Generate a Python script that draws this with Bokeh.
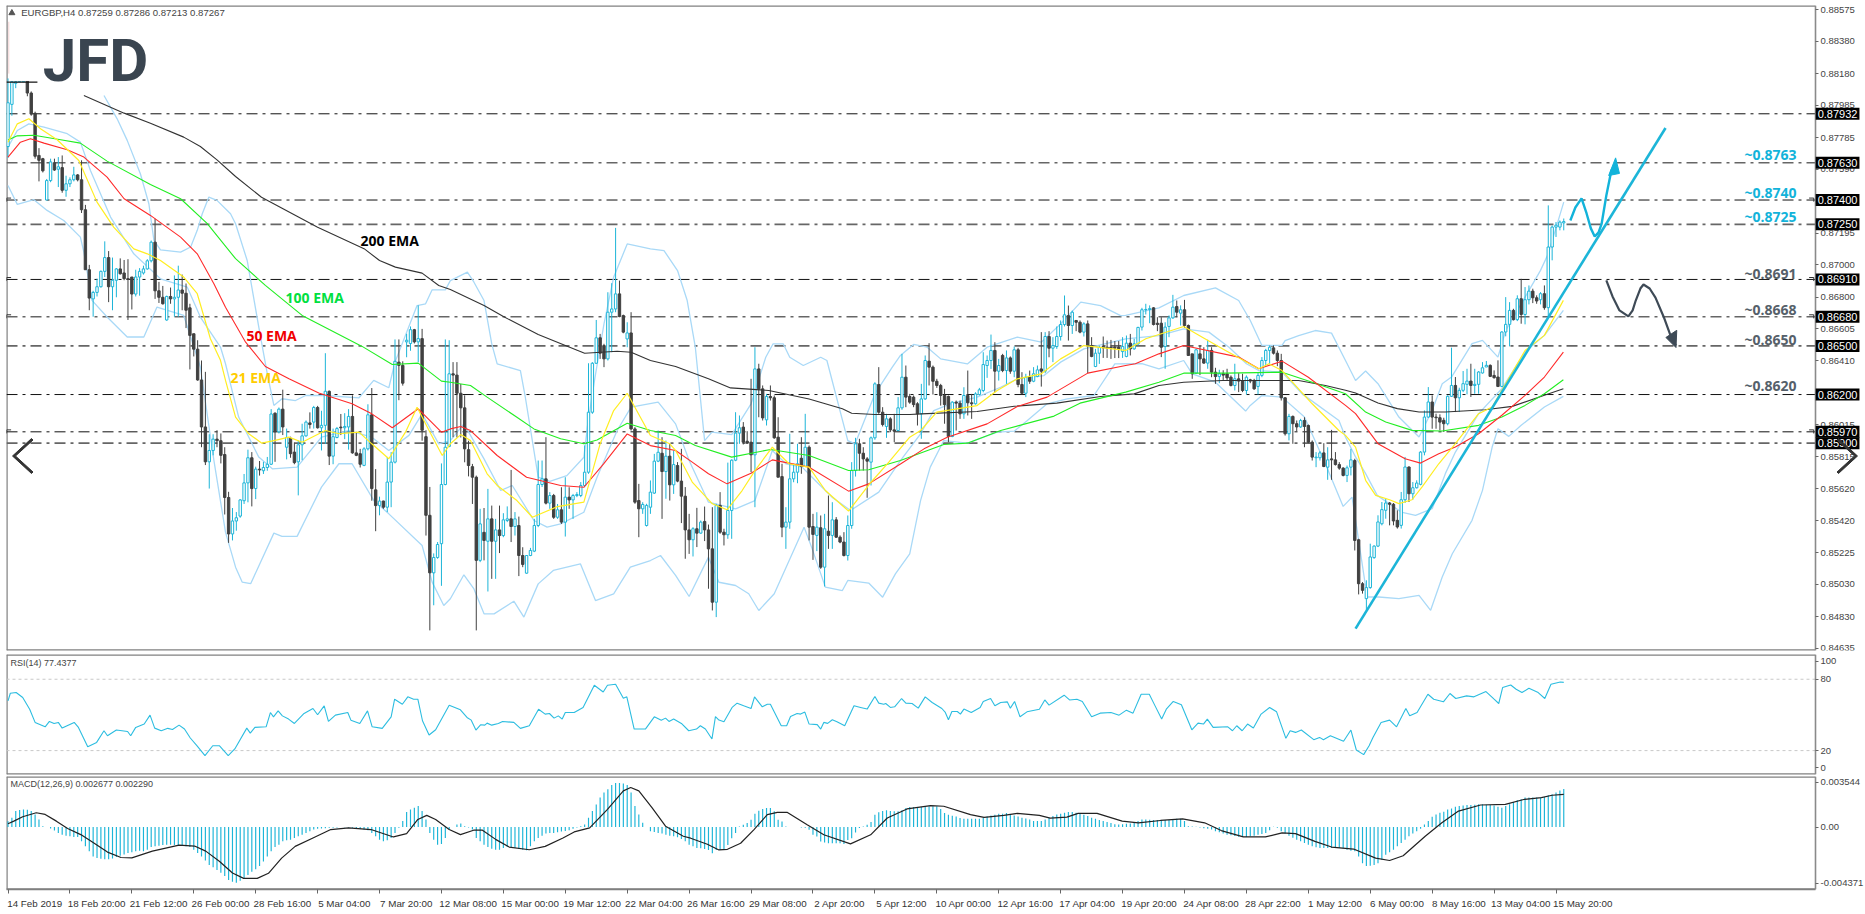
import numpy as np
from bokeh.plotting import figure
from bokeh.layouts import column
from bokeh.models import Range1d, FixedTicker, ColumnDataSource, Label, PolyAnnotation, LinearAxis
from bokeh.core.properties import value
from bokeh.embed import file_html
from bokeh.resources import INLINE

# ---- price data, in 1e-5 units ----
opens = [
87730,87990,88120,88130,88130,88140,88060,87935,87675,87655,
87400,87520,87630,87590,87600,87460,87500,87525,87555,87525,
87340,86970,86790,86830,86865,86960,87045,86865,86905,86975,
86950,86915,86925,86820,86925,86950,86975,87025,87140,86840,
86800,86660,86805,86790,86800,86845,86825,86735,86575,86480,
86290,86000,85785,85855,85925,85915,85830,85565,85340,85420,
85450,85545,85655,85810,85620,85740,85730,85750,85770,86085,
85970,86110,85875,85930,85845,85785,85890,85945,86025,86030,
86120,85995,86010,86220,85820,85935,85999,85995,86000,86065,
85840,85835,85763,85865,86075,85612,85515,85543,85505,85660,
85783,86400,86380,86525,86515,86600,86525,86545,85940,85455,
85100,85195,85280,85645,85880,86328,86320,86208,86118,85860,
85755,85690,85177,85350,85295,85433,85295,85365,85330,85423,
85433,85386,85392,85207,85098,85207,85234,85392,85645,85680,
85530,85577,85443,85489,85413,85567,85550,85577,85577,85639,
85721,86091,86393,86550,86502,86420,86708,86728,86821,86687,
86543,86580,85988,85546,85495,85392,85505,85592,85789,85838,
85725,85820,85643,85762,85666,85573,85365,85304,85372,85345,
85417,85365,85248,84919,85516,85351,85335,85485,85795,85962,
85999,85912,85906,85828,86358,86235,86044,86188,86180,85937,
85694,85382,85413,85680,85721,85807,85756,85875,85386,85331,
85378,85135,85357,85331,85427,85320,85290,85207,85392,85731,
85896,85838,85803,85783,85933,86262,86091,86003,86050,85982,
85978,86118,86307,86188,86184,86143,86081,86173,86406,86369,
86282,86256,86194,86188,85941,86153,86147,86081,86194,86149,
86143,86200,86225,86379,86410,86472,86344,86441,86348,86426,
86344,86476,86262,86208,86307,86282,86311,86358,86344,86558,
86486,86496,86558,86632,86687,86626,86657,86646,86585,86636,
86502,86373,86455,86496,86492,86492,86492,86492,86465,86435,
86517,86482,86513,86616,86723,86725,86735,86640,86640,86496,
86620,86673,86743,86702,86723,86626,86451,86332,86451,86420,
86394,86472,86338,86311,86328,86328,86307,86256,86297,86283,
86225,86291,86287,86250,86318,86410,86472,86488,86455,86410,
86180,85958,86065,86020,86000,86040,86009,85906,85810,85810,
85840,85752,85803,85797,85768,85746,85701,85752,85793,85304,
85033,84941,85009,85194,85265,85403,85486,85531,85523,85424,
85393,85551,85753,85588,85625,85646,85845,86061,86154,86061,
86057,86041,86020,86189,86256,86180,86226,86263,86283,86256,
86263,86333,86370,86380,86318,86308,86250,86586,86633,86719,
86662,86791,86694,86785,86838,86797,86785,86822,86736,87110,
87233,87233,87259]
closes = [
88000,88130,88130,88150,88150,88060,87930,87670,87645,87580,
87520,87635,87585,87605,87460,87500,87525,87555,87525,87340,
86970,86795,86830,86865,86960,87045,86865,86905,86975,86945,
86915,86910,86820,86925,86960,86975,87025,87140,86840,86800,
86760,86805,86790,86800,86845,86825,86720,86565,86480,86290,
86000,85785,85855,85925,85915,85825,85565,85340,85420,85440,
85550,85655,85810,85620,85740,85735,85750,85770,86080,85970,
86110,86000,85935,85835,85780,85890,85945,86030,86015,86120,
85995,86010,86220,85820,85940,85990,85995,86003,86065,85840,
85825,85770,85865,86075,85620,85515,85543,85505,85660,85783,
86405,86380,86270,86535,86600,86525,86545,85980,85455,85100,
85195,85275,85645,85875,86328,86320,86208,86118,85865,85762,
85690,85177,85402,85300,85433,85295,85365,85330,85427,85433,
85386,85433,85207,85152,85207,85238,85392,85645,85680,85530,
85577,85443,85489,85413,85567,85550,85577,85583,85639,85721,
86091,86393,86550,86455,86420,86708,86728,86821,86681,86585,
86580,85988,85536,85495,85522,85516,85598,85789,85844,85725,
85820,85643,85768,85666,85573,85365,85304,85372,85345,85413,
85365,85248,84919,85516,85351,85335,85485,85795,85962,85995,
85906,85900,85828,86358,86235,86056,86188,86180,85933,85690,
85382,85413,85680,85721,85773,85756,85875,85382,85337,85382,
85135,85372,85331,85427,85320,85290,85207,85392,85731,85896,
85838,85803,85789,85933,86266,86091,86015,86050,85982,85974,
86118,86307,86184,86153,86138,86081,86173,86410,86369,86282,
86256,86194,86138,85941,86153,86147,86081,86194,86149,86143,
86204,86229,86385,86410,86472,86344,86379,86348,86426,86344,
86476,86262,86208,86307,86282,86328,86352,86344,86558,86486,
86502,86558,86632,86692,86626,86708,86646,86585,86636,86502,
86435,86455,86492,86488,86486,86486,86486,86482,86496,86517,
86482,86513,86614,86723,86725,86730,86632,86632,86492,86616,
86673,86739,86708,86723,86626,86441,86328,86476,86420,86394,
86472,86338,86311,86328,86320,86303,86256,86297,86283,86225,
86307,86283,86235,86318,86410,86472,86492,86455,86410,86180,
85958,86065,86020,86000,86040,86003,85906,85814,85814,85840,
85756,85797,85797,85768,85746,85701,85748,85797,85300,85033,
84992,85009,85198,85265,85414,85490,85531,85523,85420,85383,
85551,85753,85588,85625,85654,85845,86061,86154,86061,86057,
86030,86020,86189,86256,86180,86226,86267,86283,86256,86263,
86339,86365,86380,86312,86304,86250,86586,86633,86719,86662,
86791,86694,86785,86838,86797,86777,86822,86736,87110,87233,
87245,87264,87267]
highs = [
88150,88170,88150,88180,88180,88160,88070,87945,87720,87660,
87530,87655,87655,87665,87675,87550,87540,87605,87560,87645,
87370,87000,86840,86915,86965,87145,87085,87045,86980,87040,
87030,87035,86925,86970,86980,86995,87035,87150,87285,86895,
86870,86810,86860,86935,86995,86940,86885,86760,86575,86535,
86410,86340,85955,85955,85980,85960,85875,85600,85500,85475,
85555,85710,85860,85845,85755,85790,85785,85815,86110,86090,
86120,86230,85990,85940,85905,85915,86020,86040,86090,86130,
86130,86100,86455,86225,85990,86000,86080,86085,86110,86195,
85970,85865,85875,86140,86240,85740,85570,85545,85815,85845,
86540,86540,86405,86575,86620,86605,86750,86605,85980,85630,
85220,85290,85775,86540,86535,86400,86400,86265,86195,85915,
85772,85700,85495,85500,85618,85515,85433,85515,85468,85510,
85735,85475,85447,85258,85207,85254,85433,85793,85793,85937,
85598,85587,85525,85628,85690,85628,85587,85598,85660,85886,
86393,86400,86660,86574,86513,86831,86887,87228,86903,86693,
86646,86708,85999,85649,85536,85526,85670,85834,85978,85937,
85916,85896,85855,85783,85865,85629,85464,85382,85501,85423,
85509,85398,85505,85526,85598,85372,85780,85800,86091,86071,
86030,85974,86297,86492,86390,86256,86204,86256,86194,86060,
85773,85505,85958,85773,85896,85937,86081,85886,85464,85474,
85454,85464,85577,85536,85444,85331,85351,85454,85783,85933,
85927,85875,85814,85941,86276,86369,86122,86081,86060,86081,
86184,86451,86379,86204,86194,86153,86266,86441,86517,86379,
86297,86266,86235,86194,86159,86163,86163,86245,86348,86204,
86214,86241,86461,86441,86570,86523,86420,86451,86472,86435,
86496,86488,86338,86328,86348,86369,86379,86585,86585,86591,
86554,86620,86657,86811,86749,86718,86657,86657,86646,86657,
86554,86482,86502,86558,86533,86537,86530,86530,86554,86564,
86574,86544,86618,86735,86760,86750,86739,86677,86677,86646,
86688,86815,86780,86750,86784,86632,86451,86482,86500,86492,
86538,86492,86365,86353,86350,86359,86318,86390,86332,86328,
86318,86297,86297,86338,86431,86482,86503,86503,86472,86451,
86184,86081,86071,86040,86050,86060,86015,85917,85845,85851,
85900,85875,85982,85845,85783,85752,85762,85865,85804,85310,
85043,85054,85280,85270,85455,85537,85558,85537,85531,85486,
85599,85815,85757,85660,85671,85851,86102,86246,86195,86082,
86078,86057,86195,86489,86308,86242,86345,86359,86390,86359,
86345,86400,86407,86386,86349,86411,86590,86801,86770,86729,
86812,86914,86863,86873,86853,86812,86832,86873,87367,87243,
87264,87274,87286]
lows = [
87660,87920,88090,88130,88130,88040,87920,87655,87515,87570,
87400,87510,87580,87480,87445,87420,87480,87515,87515,87320,
86970,86720,86680,86805,86860,86925,86770,86720,86800,86940,
86905,86660,86725,86805,86810,86940,86970,87015,86790,86765,
86755,86655,86760,86680,86680,86720,86610,86355,86435,86285,
85875,85765,85620,85825,85875,85775,85460,85285,85300,85360,
85440,85525,85535,85510,85555,85700,85710,85730,85765,85785,
85960,85950,85800,85810,85770,85578,85795,85940,85990,85990,
85990,85855,85895,85765,85770,85930,85950,85925,85860,85835,
85820,85750,85758,85855,85545,85357,85455,85495,85475,85505,
85775,86165,86255,86430,86470,86515,86400,85915,85330,84745,
84900,85187,85020,85640,85875,85937,85935,85935,85782,85695,
85525,84745,85166,85177,84985,85063,85063,85222,85320,85413,
85290,85330,85080,85135,85094,85203,85228,85382,85630,85522,
85495,85433,85433,85402,85324,85495,85433,85567,85567,85628,
85711,86081,86389,86420,86369,86410,86461,86708,86677,86578,
86492,85978,85526,85320,85464,85386,85464,85587,85783,85433,
85557,85546,85587,85659,85407,85187,85217,85201,85259,85341,
85296,85002,84868,84827,85341,85269,85310,85310,85789,85896,
85892,85896,85721,85505,86060,86040,86009,86163,85927,85690,
85320,85248,85372,85659,85653,85711,85752,85300,85180,85234,
85125,85016,85248,85248,85316,85283,85201,85176,85372,85694,
85731,85731,85563,85639,85921,86081,86003,85933,85968,85906,
85974,86106,86122,86143,86122,86009,85927,86167,86256,86200,
86241,86132,86020,85906,85937,85978,86050,86050,86071,86050,
86138,86194,86214,86303,86358,86214,86286,86338,86266,86328,
86307,86245,86200,86184,86266,86276,86307,86249,86332,86430,
86400,86482,86533,86620,86533,86574,86591,86578,86558,86332,
86430,86369,86389,86426,86426,86420,86425,86425,86426,86430,
86441,86476,86503,86595,86694,86640,86626,86591,86431,86359,
86554,86667,86677,86626,86612,86441,86297,86328,86320,86390,
86359,86307,86266,86270,86290,86287,86250,86225,86215,86215,
86200,86270,86229,86200,86307,86379,86390,86447,86375,86163,
85947,85917,85896,85974,85995,85875,85900,85793,85752,85793,
85752,85674,85674,85762,85736,85695,85660,85701,85238,84967,
84972,84869,85002,85187,85259,85393,85434,85393,85393,85373,
85373,85531,85537,85551,85620,85640,85825,86057,85989,85989,
85979,85969,86010,86185,86092,86092,86215,86201,86185,86205,
86205,86329,86370,86308,86298,86246,86246,86559,86497,86657,
86653,86637,86633,86756,86764,86760,86756,86723,86682,87028,
87172,87213,87213]

# ---- moving averages: (bar index, price) ----
ema200_idx = [19.6,30,36.8,45.4,49.7,54,58.8,65.5,80,92,96,100.1,107,111.3,114.3,123,128,137,144.5,149,157.4,161,166,172.5,181,186.7,196.6,207,215.6,218,224,233,236,250.4,260,271,282.3,291,297.4,303.8,313.8,327.5,333.5,340.4,345.6,348.2,354,359,364.6,371.4,381.7,388.7,397,401.9]
ema200_val = [88045,87936,87874,87788,87730,87648,87545,87417,87232,87100,87027,86986,86949,86873,86848,86749,86681,86570,86498,86455,86467,86461,86410,86373,86297,86241,86225,86173,86112,86085,86077,86077,86081,86095,86128,86147,86188,86204,86256,86276,86287,86287,86287,86256,86226,86209,86148,86113,86092,86092,86106,86127,86195,86236]
ema200_head_idx = [-0.4,7.6]
ema200_head_val = [88127,88127]
ema100_idx = [0,2.4,6.7,13.6,18.7,25.6,36.8,44.6,51.5,58.8,66.5,76,91.5,99.3,106,112,114.3,119.5,123.8,131.5,135.9,142.8,148.8,152.2,160,166,172.5,177.6,187,197,207,217.2,222.4,230.6,241.8,247.9,256.5,270.3,277,288.8,297.4,303.8,314.6,329.2,337.8,345.6,350.8,356,362.8,370.6,380,386,392,397,401.9]
ema100_val = [87770,87796,87800,87772,87751,87640,87496,87408,87254,87038,86873,86688,86497,86385,86394,86283,86276,86256,86184,86060,85988,85927,85896,85920,86023,85978,85947,85886,85814,85861,85824,85731,85736,85793,85892,85900,85978,86067,86147,86215,86276,86332,86332,86338,86270,86205,86092,86030,85979,85975,86010,86061,86133,86205,86291]
ema50_idx = [0,3.2,5.8,9.3,15.3,19.6,25.6,30,36.8,44.6,48.9,53.2,56.2,61.4,66.5,72.6,80.3,88.9,94,99.3,106,112,114.3,117,119.5,126.4,134,142.8,148.8,153.9,160,166,172.5,176.8,181,185.8,192,197.5,207,217.2,222.4,230.6,236.7,242.7,253,260.8,268.5,279,288.8,291.3,297.4,303.8,318,323.2,329.2,336,345.6,348.2,354,361,365,369.7,374,380,386,392,397,401.9]
ema50_val = [87665,87757,87778,87751,87710,87665,87541,87408,87305,87171,87068,86883,86739,86523,86373,86297,86209,86143,86081,85995,86112,85968,85988,86003,85978,85824,85690,85639,85628,85772,85957,85885,85855,85783,85711,85649,85715,85797,85752,85604,85649,85772,85865,85937,86019,86126,86184,86332,86379,86390,86451,86503,86431,86359,86406,86307,86133,86082,85897,85804,85777,85835,85876,85958,86072,86195,86308,86462]
ema21_idx = [0,2.4,5.4,8.4,12.7,18.3,23,27.3,32.5,36,39.4,45.4,48.9,52.3,54.9,56.2,58.8,62.2,65.6,69,72.6,76,82,85.5,90.7,94,98.4,102.7,105.7,108.8,112.2,114.3,117,119.5,123.8,126.4,131.5,135.5,142,148.8,153,156.5,160,163.4,166,171,172.5,176.8,182,185.8,189.7,193,197.5,201.8,207,211.2,217.2,223,227.6,233,235.8,240,245.2,250.4,255.6,260.8,267,272,278,288.8,294,298,303.8,308.6,314.6,323.2,325.8,329.2,337,343.9,345.6,348.2,350.8,353.4,357,359.4,362.8,365.4,369.7,374,380,383.5,386,392,397,401.9]
ema21_val = [87757,87870,87901,87840,87772,87644,87387,87233,87099,87068,87027,86925,86822,86544,86411,86287,86061,85958,85900,85917,85937,85906,85978,85958,85968,85896,85804,85968,86122,85978,85824,85896,85953,85916,85711,85639,85546,85443,85509,85536,85896,86101,86208,86060,85947,85896,85855,85660,85526,85489,85608,85731,85875,85773,85752,85608,85481,85659,85783,85937,85978,86091,86112,86132,86225,86297,86328,86420,86502,86472,86544,86575,86620,86554,86472,86359,86390,86348,86143,85978,85948,85876,85671,85578,85551,85527,85551,85630,85773,85897,86082,86123,86226,86472,86565,86781]

# ---- Bollinger bands ----
bb_up_idx = [24.8,28.2,30.8,34.2,36.4,37.7,39.4,44.6,47.2,48.9,50.2,51.9,54,57.5,58.8,61.8,64.8,67,68.7,70.8,74.3,76.9,82,90.7,94.5,98.4,100,105.7,107.9,109.6,113,114.3,118.7,120.4,123,125,126.4,132.4,133.6,137,140,144.4,148.8,149.7,151.4,154,156.5,160,166,169.5,173,175.5,177.6,180,181.9,187,192,195.8,197.7,200.3,202,205.5,210,211.6,217,218.9,224,228.5,230.6,234,237.5,241,247.9,253,260.8,267,272,277.2,282.3,287.5,288.8,297.4,303.8,312,318,321,324,329.2,330,333.5,337.8,342,345.6,348.2,350.8,354,359.4,364.6,368,370.6,373,378.3,381,385,387,392,396,398,402]
bb_up_val = [88045,87901,87768,87562,87377,87151,87093,87079,87110,87213,87315,87418,87398,87315,87254,87027,86616,86328,86133,86174,86163,86194,86194,86180,86287,86242,86400,86749,86760,86846,86846,86903,86955,86893,86780,86513,86389,86348,86194,85690,85665,85700,85813,86000,86266,86636,86924,87129,87099,87088,86965,86780,86492,85916,85968,85953,86143,86430,86513,86513,86430,86379,86430,86410,85916,85896,86204,86369,86441,86509,86492,86420,86389,86492,86554,86523,86636,86770,86749,86687,86688,86735,86811,86858,86780,86657,86503,86503,86533,86564,86595,86579,86410,86287,86345,86267,86061,85938,86103,86267,86308,86514,86534,86431,86596,86801,86966,87069,87387]
bb_lo_idx = [0,2.4,6.7,10.1,14.4,18.7,19.6,21.7,25.6,30.8,35.1,38.5,45.4,49.7,53.2,56.2,58.8,60.5,62.7,68.7,70.8,74.7,81,85.5,88.9,94.5,98.4,107,109.6,112.6,114.3,117.8,120.4,123,125.6,130.7,133.3,137,140.9,147.9,151.8,156.5,160.8,166,168.6,172.5,176,181,183.7,188,191.4,194,198,205.7,207.8,211.2,215.6,217,222.4,226,229.3,233,235.8,238.3,241.8,247.9,255.6,260,263.4,268.5,273.7,280.6,286,293,297.4,303.8,306,312,319.8,321,324,329.2,335,340.4,345,347.3,349,351.2,354.2,359.4,364.6,367.6,370.6,373.2,378.3,381,383.5,385,387.8,391,397,401.9]
bb_lo_val = [87490,87373,87402,87336,87274,87171,87079,86781,86678,86555,86555,86740,86688,86370,85794,85351,85135,85043,85033,85345,85325,85325,85629,85773,85773,85547,85464,85269,85043,84899,84940,85088,85001,84847,84847,84925,84827,85032,85115,85156,84929,84970,85135,85176,85207,85084,84954,85197,85042,85022,84971,84868,84971,85382,85248,85012,84991,85053,85037,84950,85094,85217,85546,85752,85916,85900,85968,85974,86040,86143,86173,86194,86389,86390,86359,86410,86328,86276,86098,86133,86194,86184,86061,85773,85510,85567,85300,84951,84951,84941,84961,84869,85074,85218,85424,85609,85876,85989,85942,86010,86123,86189]
bb_mid_idx = [0,2.4,5.4,9.3,15.3,18.7,21.3,26.5,32.5,39.4,46.3,49.7,54.9,56.2,59.6,64.8,68.3,74.7,81,88,94,98.4,103.6,107,111.3,114.3,117.8,123,127.3,130.3,135.9,139.3,142.8,148.8,152.2,157.4,161,168,172.5,176,181,188,193,197.5,201,205.2,208.6,212.9,217.7,225,230.6,235.8,239.2,243.5,250.4,256.5,260.8,267.7,272,278,288.8,297.4,303.8,310.3,315.5,320,323.2,329.2,334.4,343.9,345.6,348.2,350.8,353.8,360,363.7,368,371.4,374,380,386,392,397,401.9]
bb_mid_val = [87726,87829,87870,87850,87809,87757,87582,87295,87068,86914,86863,86678,86493,86390,86061,85814,85742,85752,85937,85978,85937,85855,85948,86081,85896,85916,86019,85803,85608,85639,85423,85382,85402,85474,85690,85978,86122,86153,86019,85793,85536,85495,85546,85855,85773,85752,85670,85567,85485,85598,85793,85958,86101,86143,86184,86245,86297,86317,86400,86482,86544,86564,86605,86585,86492,86390,86348,86338,86204,86040,85938,85815,85712,85578,85475,85455,85496,85712,85845,86082,86236,86462,86565,86719]

# ---- RSI ----
rsi_idx_a = [0,0.6,2.1,3.8,5.6,7,9.6,10.7,11.9,13,14,17.1,18.2,20.6,22.9,24.8,25.7,28,30.9,31.7,33,35.2,36.7,37.9,39.6,41.3,42.5,44.2,45.6,47.1,48.8,50.9,52.9,54.6,56.9,58.6,61.7,62.6,63.8,66.7,67.8,68.6,69.8,70.9,72.5,74,76.5,78.8,80,81.7,82.8,84.6,87.8,88.6,90.9,92.9,94.1,96.7,99,99.9,101.9,103.3,104.8,105.9,107.1,108.8,110.5,114,116.9,118.6,119.7,120.9,122.1,123.2,123.8,125,126.7,127.8,130.7,132.4,134.7,137.1,138.8,139.9,141.1,142.2,143.2,144,146.3,148.6,151.5,153.8,154.9,157,159,159.9,161.8,164.7,167,168.8,169.9,170.8,172,174,175.9]
rsi_val_a = [61.8,68.2,68.8,64.6,54.8,43.7,40,44.5,42.8,43.7,38.9,43.7,39.5,23.3,26.9,36.7,32.5,37.3,36.1,32.5,39.5,42.3,49.8,38.9,36.7,38.7,37.8,41.4,38.1,30.6,24.1,15.8,24.1,24.1,15.8,21.4,38.9,34.7,39.5,40,52,48.4,53.4,49.2,46.5,42.8,51.2,55.4,50.1,57.6,44.5,49.8,52,45.6,42.8,53.4,40,38.7,48.4,63.2,59,65.2,63.2,63.2,45.1,33.1,37.5,58.2,54.3,47.9,45.6,37.3,41.7,41.4,43.1,41.4,42.8,44.5,43.7,38.7,40.9,54.8,50.7,51.2,47.3,49.2,46.5,52,52,56.2,74.9,69.3,74.9,75.8,64,65.2,38.1,38.1,48.4,45.6,47.3,44.5,46.5,42.8,36.7]
rsi_idx_b = [177.9,178.9,180.2,181.9,182.8,183.7,185,187.1,188.4,190.1,192,192.9,194.9,196.2,197,199.8,201.2,202.2,203.9,204.8,205.9,207,209.1,210,210.8,211.8,213,214.2,216.2,218.6,220.3,222,224,225,226.3,226.8,228,229.1,230.9,232,233.6,235.2,237,238.8,241.3,242.2,243,243.9,245.3,246.1,247,248.9,251.2,252,253.9,255]
rsi_val_b = [38.1,40.9,38.1,29.8,48.5,45.7,44.3,56.3,59.9,57.7,55.4,65.2,56.8,59,59,40.9,40.9,48.7,51.2,50.7,52.4,42.3,41.8,38.1,43.7,42.9,45.9,44.3,40.9,57.7,56.3,54.9,65.5,59.9,59,59.6,56.3,56.8,63.8,59.9,59.6,55.7,65.2,60.4,55.4,52.1,45.9,52.9,52.9,50.7,54.9,52.1,56.3,61.3,63.8,57.7]
rsi_idx_c = [256.5,258.2,259,260.1,261.5,263.3,266.5,267.9,269,272.9,274.3,276.2,277.6,280,282.2,285,287.1,289,290.7,292.8,294.9,296.4,298.1,299.3,301.1,303.2,305.9,307.5,308.9,309.9,311.4,315.2,316.4,317.5,318.9,320.3,321.8,323.8,326,327.8,330.2,331.3,332.7,334.2,337.4,338.9,339.9,341.7,345.1,347,348.4,350.3,351.7,352.7,354.8,357,358.8,361.2,362.2,364.1,366.9,368.4,370.9,372.6,374.1,376.9,378.8,381.9,384,385.2,386.2,388.3,389.7,391.2,393,395.4,397.1,398.7,401.1,402]
rsi_val_c = [60.4,61,55.7,61.3,48.4,52.6,54.8,62.6,58.2,66.6,62.6,63.2,61.3,48.4,51.5,52,49.8,54,51.5,67.4,67.4,57.6,46.5,54.8,61.3,58.5,37.5,43.1,42.3,46.5,39.5,40,36.7,40.9,36.7,42.3,39,50.7,56.2,52.6,30.3,36.7,35.3,37.3,29.2,31.1,29.2,32.5,27.8,37.3,20.5,16.6,24.1,31.1,43.7,45.6,40,55.4,49.2,52,67.4,63.2,61,68,63.8,66,65.2,69.6,63.2,59.6,73,75.2,71.6,68.8,72.4,68.8,63.8,75.8,77.7,77.4]

# ---- MACD ----
macd_hist = [
417,650,1120,1190,1240,1220,1120,890,530,60,10,-100,-240,-410,-530,-600,-640,-690,-690,-1000,
-1350,-1700,-2060,-2170,-2220,-2250,-2250,-2200,-2100,-2010,-1920,-1820,-1770,-1700,-1660,-1700,-1590,-1400,-1350,-1300,
-1260,-1230,-1230,-1260,-1280,-1300,-1350,-1400,-1590,-1820,-2060,-2340,-2650,-2810,-3000,-3190,-3420,-3710,-3820,-3890,
-3750,-3590,-3350,-3120,-2950,-2720,-2410,-2060,-1700,-1400,-1230,-1000,-930,-880,-760,-640,-530,-410,-290,-170,
-120,-100,-80,-50,-50,-30,0,-10,-30,-50,-80,-120,-170,-220,-410,-640,-880,-1000,-930,-760,
-410,-50,420,1050,1240,1360,1480,1120,530,-410,-880,-1230,-1190,-760,-170,10,180,250,60,-30,
-170,-760,-1000,-1230,-1400,-1520,-1590,-1590,-1470,-1400,-1400,-1470,-1540,-1590,-1630,-1350,-1000,-760,-600,-450,
-410,-410,-360,-310,-270,-220,-120,-30,60,180,650,1120,1590,2070,2420,2650,2940,3080,3080,3060,
2940,2420,1480,890,300,0,-290,-340,-410,-450,-530,-600,-640,-710,-830,-1000,-1230,-1350,-1470,-1480,
-1530,-1600,-1840,-1600,-1600,-1550,-1250,-780,-420,50,170,280,520,940,1150,1270,1340,1340,1110,520,
400,50,0,0,0,-20,-50,-190,-540,-660,-1010,-1080,-1130,-1130,-1130,-1130,-1180,-900,-780,-380,
-70,50,170,350,870,1040,1130,1180,1130,1110,1110,1180,1340,1410,1410,1410,1410,1410,1460,1460,
1460,1270,990,870,800,750,640,590,590,590,590,590,640,750,820,870,940,940,990,870,
820,750,650,610,530,420,420,420,530,650,770,890,940,1010,1050,1050,1010,940,870,770,
650,580,490,420,350,280,200,180,200,230,250,300,420,530,530,510,490,490,490,490,
490,530,580,580,420,60,40,20,-30,-80,-120,-170,-290,-360,-450,-530,-570,-620,-670,-690,
-690,-640,-600,-530,-480,-410,-220,20,-50,-290,-450,-600,-740,-880,-1000,-1110,-1230,-1350,-1420,-1470,
-1470,-1470,-1470,-1470,-1470,-1490,-1590,-1660,-1700,-2060,-2530,-2720,-2700,-2650,-2530,-2290,-1940,-1770,-1590,-1350,
-1110,-880,-640,-450,-290,-120,180,420,720,890,1010,1080,1240,1310,1430,1480,1520,1550,1550,1570,
1600,1600,1570,1550,1520,1430,1360,1480,1600,1760,1880,1950,2070,2070,2070,2070,2070,2110,2230,2300,
2420,2560,2677]
signal_idx = [0,1.5,3.8,7.3,9.6,12.5,15.4,18.8,21.1,25.7,29.2,32,37.3,44.2,48.2,51.1,54.6,58,60.9,64.4,67.3,70.7,74.2,78.8,83.4,88,93.8,99.6,103,105.9,108.2,110.5,114,116.9,120.3,122.6,126.1,129.5,134.7,138.8,143.4,146.3,150.3,154.9,159,160.9,163,166.4,169.9,174.5,176.4,180.7,183.7,185.9,189.3,192.7,196.2,198.8,201.3,206.5,210.8,217.7,222.9,227.2,232.3,238.4,241.8,248.7,252.2,257.3,260.8,266.5,269.3,273.6,276.5,281.4,287.9,292.1,297.8,303.5,309.2,313.5,319.2,324.9,329.2,332.7,337.7,342,347.7,353.4,357,360.5,366.2,370.5,374.8,380.5,386.9,391.9,396.2,399,402]
signal_val = [229,417,723,1007,890,418,-102,-526,-927,-1752,-2129,-2153,-1682,-1258,-1329,-1682,-2388,-3213,-3589,-3589,-3236,-2176,-1352,-763,-172,-54,-172,-690,-455,535,818,535,-172,-526,-219,-219,-878,-1399,-1588,-1352,-761,-337,-54,1241,2537,2772,2537,1359,63,-644,-777,-1200,-1600,-1555,-1130,-190,870,1037,1037,165,-540,-1178,-540,636,1272,1508,1460,872,683,825,959,818,629,700,959,959,417,299,464,582,299,-243,-690,-690,-408,-455,-997,-1397,-1538,-2175,-2340,-2010,-643,299,1124,1548,1595,1948,2066,2231,2290]

# ---- levels, ticks, labels ----
tick_prices = [0.88575,0.88380,0.88180,0.87985,0.87785,0.87590,0.87195,0.87000,0.86800,0.86605,0.86410,0.86015,0.85815,0.85620,0.85420,0.85225,0.85030,0.84830,0.84635]
thin_levels = [0.87932,0.87400,0.86910,0.86200,0.85970]
thick_levels = [0.87630,0.87250,0.86680,0.86500,0.85900]
bracket_levels = [0.87400,0.86910,0.86680,0.85970]
time_labels = ["14 Feb 2019","18 Feb 20:00","21 Feb 12:00","26 Feb 00:00","28 Feb 16:00","5 Mar 04:00","7 Mar 20:00","12 Mar 08:00","15 Mar 00:00","19 Mar 12:00","22 Mar 04:00","26 Mar 16:00","29 Mar 08:00","2 Apr 20:00","5 Apr 12:00","10 Apr 00:00","12 Apr 16:00","17 Apr 04:00","19 Apr 20:00","24 Apr 08:00","28 Apr 22:00","1 May 12:00","6 May 00:00","8 May 16:00","13 May 04:00","15 May 20:00"]
blue_notes = ["~0.8763","~0.8740","~0.8725"]
blue_note_y = [87681,87447,87298]
grey_notes = ["~0.8691","~0.8668","~0.8650","~0.8620"]
grey_note_y = [86947,86725,86540,86256]
ema_names = ["200 EMA","100 EMA","50 EMA","21 EMA"]
ema_name_idx = [91.1,71.7,61.6,57.5]
ema_name_val = [87150,86799,86564,86305]
ema_name_col = ["#000000","#00e040","#f00000","#ffcc00"]
trend_idx = [348.2,428.3]
trend_val = [84756,87844]
up_idx = [403.7,405,406.6,407.9,409,410,411,411.8,413,414.3,415.4]
up_val = [87274,87354,87410,87317,87225,87175,87200,87255,87428,87582,87625]
up_head_idx = [415.4,413.6,416.4]
up_head_val = [87660,87551,87564]
down_idx = [413,414.6,416.4,418.7,419.8,420.6,421.8,422.6,424.2,425.7,428,429.6,431]
down_val = [86904,86805,86719,86682,86719,86780,86854,86879,86854,86798,86669,86564,86502]
down_head_idx = [431,428.4,431.2]
down_head_val = [86490,86552,86596]

BLUE = "#1cb5d8"
DARK = "#404040"
FONT = "Liberation Sans"
AX_END = 467.05
x_rng = Range1d(-0.39, 479.97)
px = 1e-5
ix = np.arange(len(opens))
O, H, L, C = [np.array(a) * px for a in (opens, highs, lows, closes)]

def make(h, top, bottom, yr):
    f = figure(width=1865, height=h, x_range=x_rng, y_range=yr, tools="", toolbar_location=None,
               output_backend="svg", x_axis_location=None, y_axis_location="right",
               min_border_left=6, min_border_right=0, min_border_top=top, min_border_bottom=bottom,
               background_fill_color="white", border_fill_color="white")
    f.grid.visible = False
    f.outline_line_color = None
    # frame edges of the chart window (the axis column stays open to the right)
    f.multi_line([[-0.39, AX_END], [-0.39, AX_END], [-0.39, -0.39]],
                 [[yr.start, yr.start], [yr.end, yr.end], [yr.start, yr.end]],
                 line_color="#808080", line_width=2.4)
    ax = f.yaxis[0]
    ax.fixed_location = AX_END
    ax.axis_line_color = "#8a8a8a"
    ax.axis_line_width = 1.6
    ax.major_tick_line_color = "#666666"
    ax.major_tick_out = 3
    ax.major_tick_in = 0
    ax.minor_tick_out = 0
    ax.minor_tick_in = 0
    ax.major_label_text_font = FONT
    ax.major_label_text_font_size = "9.5px"
    ax.major_label_text_color = "#444444"
    ax.major_label_standoff = 2
    return f

# ---------------- main pane ----------------
p = make(653, 5, 3, Range1d(0.84621, 0.88600))
p.yaxis[0].ticker = FixedTicker(ticks=tick_prices)
p.yaxis[0].major_label_overrides = {t: f"{t:.5f}" for t in tick_prices}

p.multi_line([[-0.39, AX_END]] * len(thin_levels), [[l, l] for l in thin_levels],
             line_color="#111111", line_width=1, line_dash="11 5 3 5")
p.multi_line([[-0.39, AX_END]] * len(thick_levels), [[l, l] for l in thick_levels],
             line_color="#666666", line_width=1.6, line_dash="11 5 3 5")
for i0, i1 in ((-0.39, 0.8), (466.6, 465.4)):
    p.multi_line([[i0, i0, i1]] * len(bracket_levels),
                 [[l - 1.0e-4, l + 1.2e-4, l + 1.2e-4] for l in bracket_levels],
                 line_color="#333333", line_width=1)

for xs, ys in ((bb_up_idx, bb_up_val), (bb_lo_idx, bb_lo_val), (bb_mid_idx, bb_mid_val)):
    p.line(xs, np.array(ys) * px, line_color="#a9d9f7", line_width=1.3)

up = C >= O
for mask, col, fill in ((up, BLUE, "white"), (~up, DARK, DARK)):
    src = ColumnDataSource(dict(x=ix[mask], o=O[mask], c=C[mask], h=H[mask], l=L[mask]))
    p.segment("x", "h", "x", "l", source=src, line_color=col, line_width=1)
    p.vbar("x", 0.62, "o", "c", source=src, fill_color=fill, line_color=col, line_width=1)

p.line(ema200_idx, np.array(ema200_val) * px, line_color="#333333", line_width=1.1)
p.line(ema200_head_idx, np.array(ema200_head_val) * px, line_color="#111111", line_width=1.1)
p.line(ema100_idx, np.array(ema100_val) * px, line_color="#22ee22", line_width=1.1)
p.line(ema50_idx, np.array(ema50_val) * px, line_color="#ff2a2a", line_width=1.1)
p.line(ema21_idx, np.array(ema21_val) * px, line_color="#ffee22", line_width=1.2)

p.quad(left=[0.4], right=[40.7], top=[0.8850], bottom=[0.88137], fill_color="white", line_color="white")
p.segment([0.2], [0.8850], [0.2], [0.8818], line_color="#f3d3d3", line_width=1)
p.text([9.0], [0.88261], text=["JFD"], text_font=value("Roboto"), text_font_style="bold",
       text_font_size="60px", text_color="#3a4550", text_baseline="middle")

p.line(trend_idx, np.array(trend_val) * px, line_color=BLUE, line_width=2.6)
p.line(up_idx, np.array(up_val) * px, line_color="#12b3da", line_width=2.4)
p.patch(up_head_idx, np.array(up_head_val) * px, fill_color="#12b3da", line_color="#12b3da")
p.line(down_idx, np.array(down_val) * px, line_color="#3e4a56", line_width=2.2)
p.patch(down_head_idx, np.array(down_head_val) * px, fill_color="#3e4a56", line_color="#3e4a56")

p.scatter([1.0], [0.88554], marker="triangle", size=6, fill_color="#555555", line_color="#555555")
p.text([3.4], [0.88554], text=["EURGBP,H4  0.87259 0.87286 0.87213 0.87267"], text_font=value(FONT),
       text_font_size="9.6px", text_color="#444444", text_baseline="middle")

p.text(ema_name_idx, np.array(ema_name_val) * px, text=ema_names, text_color=ema_name_col,
       text_font=value("Open Sans"), text_font_style="bold", text_font_size="14px", text_baseline="middle")
p.text([448.7] * 3, np.array(blue_note_y) * px, text=blue_notes, text_color="#12b3da",
       text_font=value("Open Sans"), text_font_style="bold", text_font_size="14px", text_baseline="middle")
p.text([448.7] * 4, np.array(grey_note_y) * px, text=grey_notes, text_color="#55606a",
       text_font=value("Open Sans"), text_font_style="bold", text_font_size="14px", text_baseline="middle")

for lvl in sorted(thin_levels + thick_levels):
    p.add_layout(Label(x=467.1, y=lvl, text=f"{lvl:.5f}",
                       text_color="white", text_font=FONT, text_font_size="11px", text_baseline="middle",
                       background_fill_color="black", padding=2))

for xs, ys in (
    ([31, 12, 31, 32.5, 15, 32.5], [438, 455.5, 473, 471.5, 455.5, 439.5]),
    ([1838, 1857, 1838, 1836.5, 1854, 1836.5], [438, 455.5, 473, 471.5, 455.5, 439.5]),
):
    p.add_layout(PolyAnnotation(xs=xs, ys=ys, xs_units="canvas", ys_units="canvas",
                                fill_color="#333333", fill_alpha=1, line_color="#333333", line_alpha=1))

# ---------------- RSI pane ----------------
p2 = make(122, 1, 1, Range1d(-0.1, 100.8))
rsi_labels = {95.3: "100", 80: "80", 20: "20", 5.4: "0"}
p2.yaxis[0].ticker = FixedTicker(ticks=list(rsi_labels))
p2.yaxis[0].major_label_overrides = rsi_labels
p2.multi_line([[-0.39, AX_END]] * 2, [[80, 80], [20, 20]], line_color="#c8c8c8", line_width=1, line_dash="3 3")
p2.line(rsi_idx_a + rsi_idx_b + rsi_idx_c, rsi_val_a + rsi_val_b + rsi_val_c, line_color="#2cbde0", line_width=1.1)
p2.text([0.65], [93.6], text=["RSI(14) 77.4377"], text_font=value(FONT), text_font_size="9px",
        text_color="#444444", text_baseline="middle")

# ---------------- MACD pane ----------------
p3 = make(139, 1, 25, Range1d(-0.004371, 0.003544))
macd_labels = {0.003146: "0.003544", 0: "0.00", -0.003924: "-0.004371"}
p3.yaxis[0].ticker = FixedTicker(ticks=list(macd_labels))
p3.yaxis[0].major_label_overrides = macd_labels
p3.vbar(ix, 0.3, 0, np.array(macd_hist) * 1e-6, fill_color=BLUE, line_color=None)
p3.line(signal_idx, np.array(signal_val) * 1e-6, line_color="#222222", line_width=1.2)
p3.text([0.65], [0.003005], text=["MACD(12,26,9) 0.002677 0.002290"], text_font=value(FONT), text_font_size="9px",
        text_color="#444444", text_baseline="middle")

tick_pos = [16 * n for n in range(len(time_labels))]
lab_pos = [t + 6.9 for t in tick_pos]
xax = LinearAxis(ticker=FixedTicker(ticks=lab_pos, minor_ticks=tick_pos),
                 major_label_overrides=dict(zip(lab_pos, time_labels)), bounds=(-0.39, AX_END))
xax.major_tick_out = 0
xax.major_tick_in = 0
xax.minor_tick_out = 4
xax.minor_tick_in = 0
xax.minor_tick_line_color = "#666666"
xax.axis_line_color = "#808080"
xax.axis_line_width = 1.6
xax.major_label_text_font = FONT
xax.major_label_text_font_size = "9.8px"
xax.major_label_text_color = "#333333"
xax.major_label_standoff = 4
p3.add_layout(xax, "below")

page = column(p, p2, p3, spacing=0, styles={"position": "absolute", "left": "0px", "top": "0px"})
open("out.html", "w").write(file_html(page, INLINE))
